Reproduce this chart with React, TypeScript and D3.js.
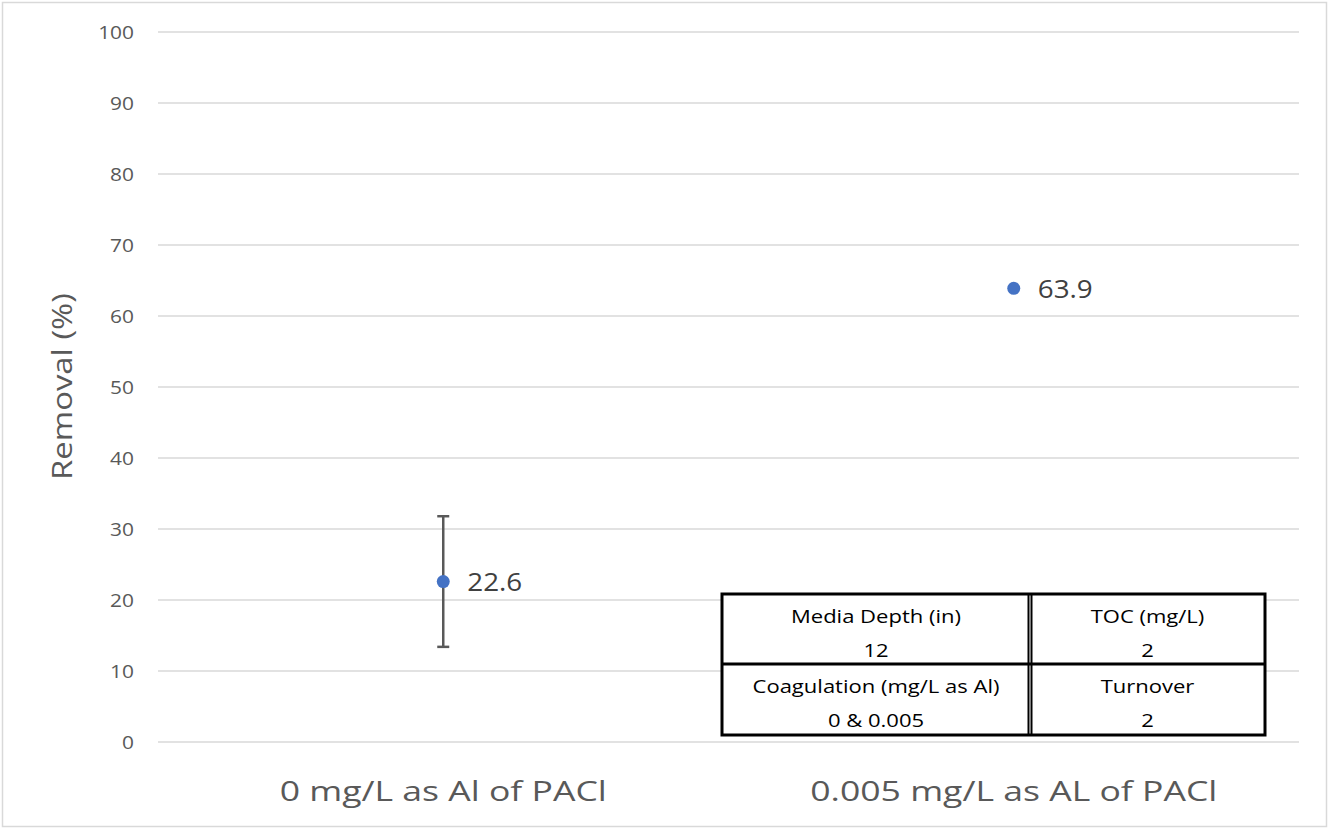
import { scaleBand, scaleLinear } from "d3";

const categories = ["0 mg/L as Al of PACl", "0.005 mg/L as AL of PACl"];
const removal = [22.6, 63.9];
const errorPlus = [9.2, null];
const errorMinus = [9.2, null];
const yTicks = [0, 10, 20, 30, 40, 50, 60, 70, 80, 90, 100];
const tableHeaders = [
  ["Media Depth (in)", "TOC (mg/L)"],
  ["Coagulation (mg/L as Al)", "Turnover"],
];
const tableValues = [
  ["12", "2"],
  ["0 & 0.005", "2"],
];

const font = "'Open Sans', 'Noto Sans', sans-serif";

// the source chart's text is a little wider than Open Sans, so stretch it sideways
function WideText({ x, y, sx = 1, rotate = 0, children, ...rest }: any) {
  return (
    <text
      transform={`translate(${x},${y}) rotate(${rotate}) scale(${sx},1)`}
      fontFamily={font}
      {...rest}
    >
      {children}
    </text>
  );
}

export default function App() {
  const width = 1329;
  const height = 829;
  const plot = { left: 158, right: 1299, top: 32, bottom: 742 };

  const x = scaleBand<string>()
    .domain(categories)
    .range([plot.left, plot.right]);
  const y = scaleLinear().domain([0, 100]).range([plot.bottom, plot.top]);

  const tbl = { x: 722, y: 594, colW: [308, 235], rowH: [70, 71] };
  const colX = [tbl.x, tbl.x + tbl.colW[0], tbl.x + tbl.colW[0] + tbl.colW[1]];
  const rowY = [tbl.y, tbl.y + tbl.rowH[0], tbl.y + tbl.rowH[0] + tbl.rowH[1]];

  return (
    <div style={{ position: "absolute", left: 0, top: 0 }}>
      <svg width={width} height={height} viewBox={`0 0 ${width} ${height}`}>
        <rect x={0} y={0} width={width} height={height} fill="#fff" />
        <rect
          x={2.5}
          y={2.5}
          width={width - 5}
          height={height - 5}
          fill="none"
          stroke="#d9d9d9"
          strokeWidth={1.5}
        />
        <g>
          {yTicks.map((t) => (
            <g key={t}>
              <line
                x1={plot.left}
                x2={plot.right}
                y1={y(t)}
                y2={y(t)}
                stroke="#d9d9d9"
                strokeWidth={1.5}
              />
              <WideText
                x={134}
                y={y(t) + 6.5}
                sx={1.1}
                textAnchor="end"
                fontSize={19}
                fill="#595959"
              >
                {t}
              </WideText>
            </g>
          ))}
        </g>
        <WideText
          x={72}
          y={386.5}
          rotate={-90}
          sx={1.24}
          textAnchor="middle"
          fontSize={26.5}
          fill="#595959"
        >
          Removal (%)
        </WideText>
        {categories.map((c) => (
          <WideText
            key={c}
            x={(x(c) ?? 0) + x.bandwidth() / 2}
            y={801}
            sx={1.27}
            textAnchor="middle"
            fontSize={28}
            fill="#595959"
          >
            {c}
          </WideText>
        ))}
        {categories.map((c, i) => {
          const cx = (x(c) ?? 0) + x.bandwidth() / 2;
          const v = removal[i];
          const plus = errorPlus[i];
          const minus = errorMinus[i];
          return (
            <g key={c}>
              {plus != null && minus != null && (
                <g stroke="#595959" strokeWidth={2.5}>
                  <line x1={cx} x2={cx} y1={y(v + plus)} y2={y(v - minus)} />
                  <line x1={cx - 6} x2={cx + 6} y1={y(v + plus)} y2={y(v + plus)} />
                  <line x1={cx - 6} x2={cx + 6} y1={y(v - minus)} y2={y(v - minus)} />
                </g>
              )}
              <circle cx={cx} cy={y(v)} r={6.5} fill="#4472c4" />
              <WideText
                x={cx + 24}
                y={y(v) + 9.5}
                sx={1.07}
                fontSize={26}
                fill="#404040"
              >
                {v.toFixed(1)}
              </WideText>
            </g>
          );
        })}
        <g>
          <rect
            x={colX[0]}
            y={rowY[0]}
            width={colX[2] - colX[0]}
            height={rowY[2] - rowY[0]}
            fill="#fff"
          />
          {tableHeaders.map((row, r) =>
            row.map((h, ci) => {
              const cx = (colX[ci] + colX[ci + 1]) / 2;
              return (
                <g key={`${r}-${ci}`}>
                  <WideText x={cx} y={rowY[r] + 29} sx={1.19} fontSize={18.5} fill="#000" textAnchor="middle">
                    {h}
                  </WideText>
                  <WideText x={cx} y={rowY[r] + 63} sx={1.19} fontSize={18.5} fill="#000" textAnchor="middle">
                    {tableValues[r][ci]}
                  </WideText>
                </g>
              );
            }),
          )}
          <rect
            x={colX[0]}
            y={rowY[0]}
            width={colX[2] - colX[0]}
            height={rowY[2] - rowY[0]}
            fill="none"
            stroke="#000"
            strokeWidth={3}
          />
          <line x1={colX[0]} x2={colX[2]} y1={rowY[1]} y2={rowY[1]} stroke="#000" strokeWidth={3} />
          <line x1={colX[1] - 1.5} x2={colX[1] - 1.5} y1={rowY[0]} y2={rowY[2]} stroke="#000" strokeWidth={2} />
          <line x1={colX[1] + 1.5} x2={colX[1] + 1.5} y1={rowY[0]} y2={rowY[2]} stroke="#000" strokeWidth={2} />
        </g>
      </svg>
    </div>
  );
}
